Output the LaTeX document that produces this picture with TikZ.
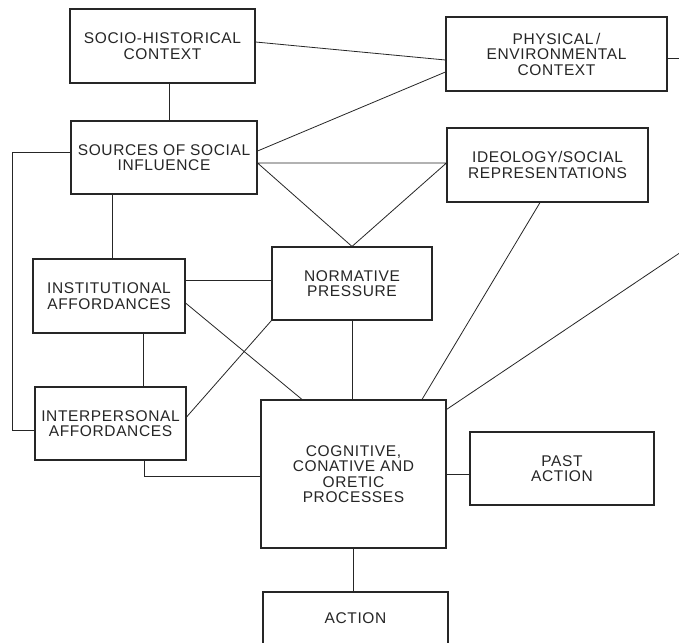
\documentclass[tikz,border=0pt]{standalone}
\usepackage{fontspec}
\setmainfont[LetterSpace=4]{Liberation Sans}
\begin{document}
\begin{tikzpicture}[x=1pt, y=-1pt,
    box/.style={draw=black!85, line width=1.1pt, align=center, inner sep=1pt, text=black!85,
      font=\fontsize{15.5}{15.5}\selectfont},
    link/.style={draw=black!85, line width=0.8pt}]
    \useasboundingbox[fill=white] (0,0) rectangle (679,642);

    % Context and influence boxes
    \node[box, minimum width=185pt, minimum height=74pt] (socio) at (162.5,46) {SOCIO-HISTORICAL\\CONTEXT};
    \node[box, minimum width=221pt, minimum height=74pt] (physical) at (556.5,54) {PHYSICAL\,/\\ENVIRONMENTAL\\CONTEXT};
    \node[box, minimum width=186pt, minimum height=73pt] (sources) at (164,157.5) {SOURCES OF SOCIAL\\INFLUENCE};
    \node[box, minimum width=201pt, minimum height=74pt] (ideology) at (547.5,165) {IDEOLOGY/SOCIAL\\REPRESENTATIONS};
    \node[box, minimum width=160pt, minimum height=73pt] (normative) at (352,283.5) {NORMATIVE\\PRESSURE};
    \node[box, minimum width=152pt, minimum height=74pt] (institutional) at (109,296) {INSTITUTIONAL\\AFFORDANCES};
    \node[box, minimum width=151pt, minimum height=73pt] (interpersonal) at (110.5,423.5) {INTERPERSONAL\\AFFORDANCES};

    % Processes and action
    \node[box, minimum width=185pt, minimum height=148pt] (cognitive) at (353.5,474) {COGNITIVE,\\CONATIVE AND\\ORETIC\\PROCESSES};
    \node[box, minimum width=184pt, minimum height=73pt] (past) at (562,468.5) {PAST\\ACTION};
    \node[box, minimum width=185pt, minimum height=52pt] (action) at (355.5,618) {ACTION};

    % Free ends running off the right margin
    \coordinate (rimA) at (690,58);
    \coordinate (rimB) at (690,246);

    % Links from the top
    \draw[link] ([xshift=7pt]socio.south) -- ([xshift=7pt]socio.south |- sources.north);
    \draw[link] ([yshift=4pt]socio.east) -- ([yshift=-6pt]physical.west);
    \draw[link] ([yshift=6.5pt]sources.east) -- ([yshift=-18pt]physical.west);
    \draw[link] ([yshift=-4pt]physical.east) -- (rimA);
    \draw[link] (rimB) -- ([yshift=-10pt]cognitive.north east);

    % Triangle to normative pressure
    \coordinate (tri) at ([yshift=-5.5pt]sources.east);
    \draw[link] (tri) -- (tri -| ideology.west) -- (normative.north) -- cycle;
    \draw[link] ([xshift=-7.5pt]ideology.south) -- ([xshift=68.5pt]cognitive.north);
    \draw[link] (normative.south) -- (normative.south |- cognitive.north);

    % Affordances
    \draw[link] ([xshift=-52pt]sources.south) -- ([xshift=-52pt]sources.south |- institutional.north);
    \draw[link] ([yshift=16pt]institutional.east) -- ([yshift=16pt]institutional.east -| normative.west);
    \draw[link] ([yshift=-7pt]institutional.east) -- ([xshift=-51.5pt]cognitive.north);
    \draw[link] ([xshift=34pt]institutional.south) -- ([xshift=34pt]institutional.south |- interpersonal.north);
    \draw[link] ([yshift=6.5pt]interpersonal.east) -- (normative.south west);
    \draw[link] ([yshift=5.5pt]sources.west) -- ++(-58,0) |- ([yshift=-6.5pt]interpersonal.west);
    \draw[link] ([xshift=33.5pt]interpersonal.south) |- ([yshift=-2pt]cognitive.west);

    % Past action and action
    \draw[link] (cognitive.east) -- (cognitive.east -| past.west);
    \draw[link] (cognitive.south) -- (cognitive.south |- action.north);
\end{tikzpicture}
\end{document}
